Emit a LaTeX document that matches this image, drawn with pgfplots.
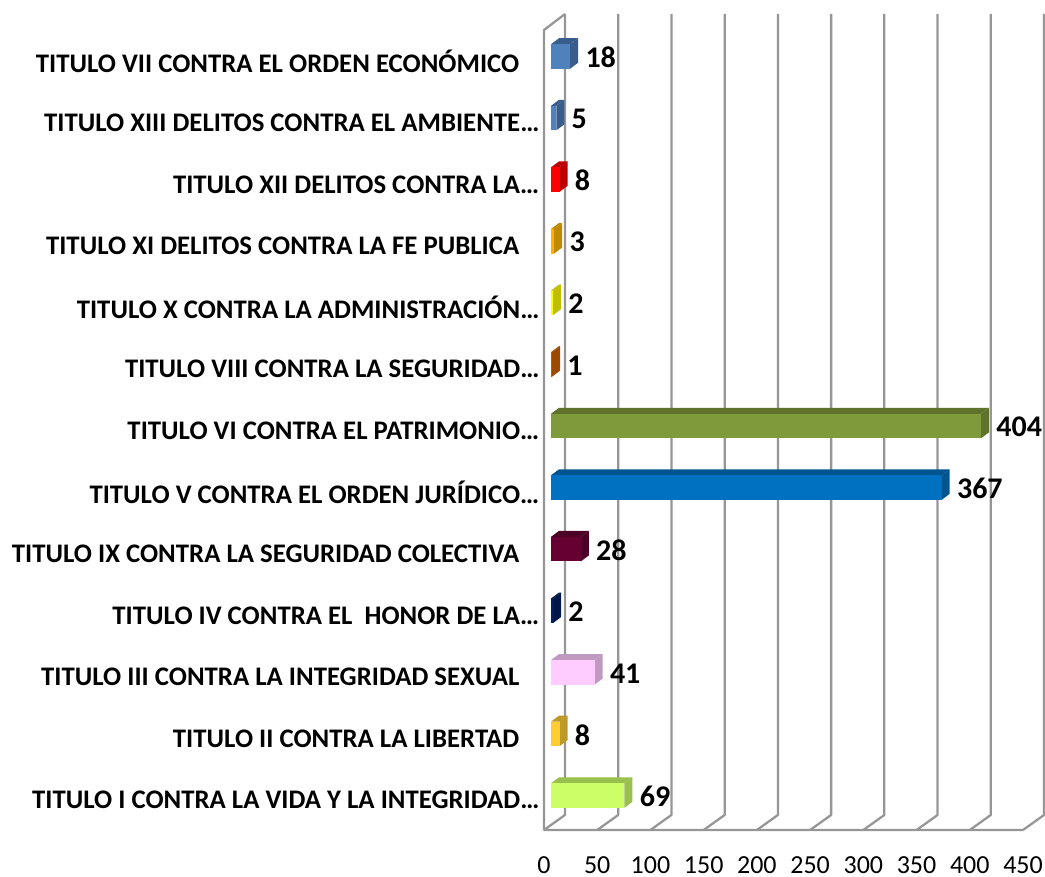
\documentclass[border=0pt]{standalone}
\usepackage{pgfplots}
\pgfplotsset{compat=1.18}
\usepackage{fontspec}
\setmainfont{Carlito}
\definecolor{gridg}{HTML}{969696}
\definecolor{af}{HTML}{CCFF66}\definecolor{as}{HTML}{99BF4C}
\definecolor{bf}{HTML}{FFCC33}\definecolor{bs}{HTML}{BF9926}
\definecolor{cf}{HTML}{FFCCFF}\definecolor{cs}{HTML}{BF99BF}
\definecolor{df}{HTML}{002060}\definecolor{ds}{HTML}{001848}
\definecolor{ef}{HTML}{660033}\definecolor{es}{HTML}{4C0026}
\definecolor{ff}{HTML}{0070C0}\definecolor{fs}{HTML}{005490}
\definecolor{gf}{HTML}{7F9A3A}\definecolor{gs}{HTML}{5F732C}
\definecolor{hf}{HTML}{C05A00}\definecolor{hs}{HTML}{9C4A00}
\definecolor{if}{HTML}{FFFF00}\definecolor{is}{HTML}{BFBF00}
\definecolor{jf}{HTML}{FFB000}\definecolor{js}{HTML}{BF8A00}
\definecolor{kf}{HTML}{FF0000}\definecolor{ks}{HTML}{BF0000}
\definecolor{lf}{HTML}{4F81BD}\definecolor{ls}{HTML}{385D8A}
\newcommand{\tdbar}[4]{% index, value, front, side
  \pgfmathsetmacro{\yb}{#1-0.199}\pgfmathsetmacro{\yt}{#1+0.199}
  \pgfmathsetmacro{\ybb}{#1-0.199+0.0974}\pgfmathsetmacro{\ytb}{#1+0.199+0.0974}
  \pgfmathsetmacro{\xb}{#2+7.52}
  \addplot[fill=#4,draw=none,xshift=5.25pt] coordinates {(0,\yt) (#2,\yt) (\xb,\ytb) (7.52,\ytb)};
  \addplot[fill=#4,draw=none,xshift=5.25pt] coordinates {(#2,\yb) (#2,\yt) (\xb,\ytb) (\xb,\ybb)};
  \addplot[xbar,bar shift=0pt,bar width=18.4pt,fill=#3,draw=none,xshift=5.25pt,
    nodes near coords,
    nodes near coords style={font=\fontsize{22.5}{24}\selectfont\bfseries,text=black,anchor=west,xshift=8pt,yshift=-0.7pt}]
    coordinates {(#2,#1)};
}
\newcommand{\wall}[1]{%
  \pgfmathsetmacro{\xk}{#1+19.73}
  \addplot[gridg,line width=1.7pt,line join=round] coordinates {(#1,-0.56) (\xk,-0.316) (\xk,12.69)};
}
\begin{document}
\begin{tikzpicture}
\useasboundingbox (-408pt,-34.5pt) rectangle (375.75pt,622.5pt);
\begin{axis}[
  at={(0,0)},anchor=south west,
  scale only axis,width=375pt,height=612pt,
  xmin=0,xmax=469.7,ymin=-0.56,ymax=12.69,
  clip=false,
  axis line style={draw=none},
  tick style={draw=none},
  xtick={0,50,100,150,200,250,300,350,400,450},
  ytick={0,...,12},
  yticklabels={
    TITULO I CONTRA LA VIDA Y LA INTEGRIDAD…,
    TITULO II CONTRA LA LIBERTAD\hspace*{15pt},
    TITULO III CONTRA LA INTEGRIDAD SEXUAL\hspace*{15pt},
    TITULO IV CONTRA EL\ \ HONOR DE LA…,
    TITULO IX CONTRA LA SEGURIDAD COLECTIVA\hspace*{15pt},
    TITULO V CONTRA EL ORDEN JURÍDICO…,
    TITULO VI CONTRA EL PATRIMONIO…,
    TITULO VIII CONTRA LA SEGURIDAD…,
    TITULO X CONTRA LA ADMINISTRACIÓN…,
    TITULO XI DELITOS CONTRA LA FE PUBLICA\hspace*{15pt},
    TITULO XII DELITOS CONTRA LA…,
    TITULO XIII DELITOS CONTRA EL AMBIENTE…,
    TITULO VII CONTRA EL ORDEN ECONÓMICO\hspace*{15pt}},
  y tick label style={font=\fontsize{20.1}{22}\selectfont\bfseries,anchor=east,xshift=0pt,yshift=-3.5pt},
  x tick label style={font=\fontsize{19.5}{21}\selectfont,anchor=center,yshift=-26.5pt},
  /pgf/number format/assume math mode=true,
]
\wall{0}\wall{50}\wall{100}\wall{150}\wall{200}\wall{250}\wall{300}\wall{350}\wall{400}\wall{450}
\addplot[gridg,line width=1.7pt,line join=round] coordinates {(19.73,12.69) (0,12.43) (0,-0.56) (450,-0.56)};
\tdbar{0}{69}{af}{as}
\tdbar{1}{8}{bf}{bs}
\tdbar{2}{41}{cf}{cs}
\tdbar{3}{2}{df}{ds}
\tdbar{4}{28}{ef}{es}
\tdbar{5}{367}{ff}{fs}
\tdbar{6}{404}{gf}{gs}
\tdbar{7}{1}{hf}{hs}
\tdbar{8}{2}{if}{is}
\tdbar{9}{3}{jf}{js}
\tdbar{10}{8}{kf}{ks}
\tdbar{11}{5}{lf}{ls}
\tdbar{12}{18}{lf}{ls}
\end{axis}
\end{tikzpicture}
\end{document}
